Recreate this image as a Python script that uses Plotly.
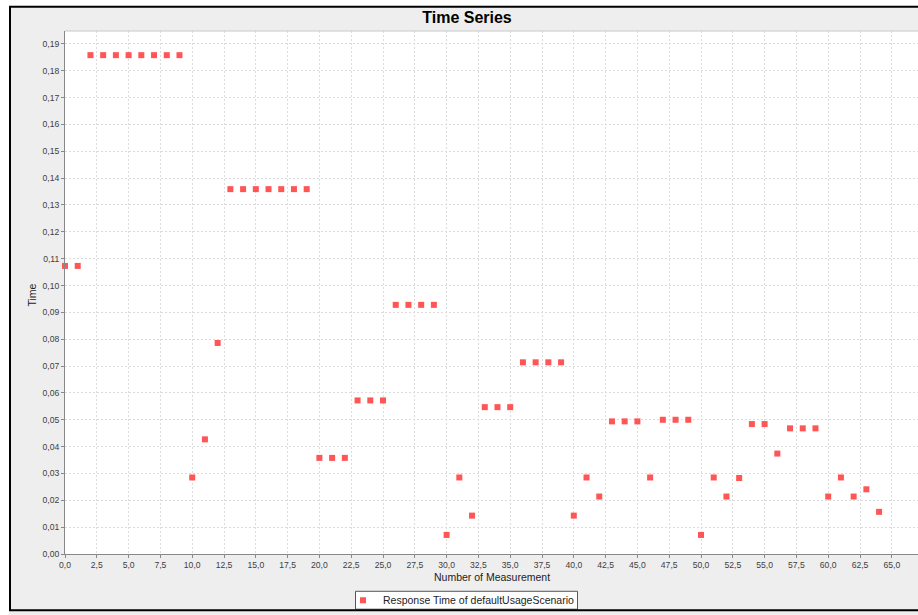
import plotly.graph_objects as go

# Data
measurement = list(range(65))
response_time = [
    0.1073, 0.1073,
    0.1858, 0.1858, 0.1858, 0.1858, 0.1858, 0.1858, 0.1858, 0.1858,
    0.0285, 0.0427, 0.0786,
    0.1359, 0.1359, 0.1359, 0.1359, 0.1359, 0.1359, 0.1359,
    0.0358, 0.0358, 0.0358,
    0.0572, 0.0572, 0.0572,
    0.0928, 0.0928, 0.0928, 0.0928,
    0.0071, 0.0285, 0.0143,
    0.0547, 0.0547, 0.0547,
    0.0714, 0.0714, 0.0714, 0.0714,
    0.0143, 0.0285, 0.0214,
    0.0494, 0.0494, 0.0494,
    0.0285,
    0.0500, 0.0500, 0.0500,
    0.0071, 0.0285, 0.0214, 0.0283,
    0.0484, 0.0484,
    0.0374,
    0.0468, 0.0468, 0.0468,
    0.0214, 0.0285, 0.0214, 0.0241, 0.0157,
]
series_name = "Response Time of defaultUsageScenario"
title_text = "Time Series"
x_title = "Number of Measurement"
y_title = "Time"

W, H = 918, 615
L, R, T, B = 65, 0, 31, 58
pw, ph = W - L - R, H - T - B


def px(x):
    return (x - L) / pw


def py(y):
    return (H - B - y) / ph


FONT = "Liberation Sans, Arial, sans-serif"

fig = go.Figure()
fig.add_trace(go.Scatter(
    x=measurement, y=response_time, mode="markers", name=series_name,
    marker=dict(symbol="square", size=6, color="#FF5555", line=dict(width=0)),
    cliponaxis=False,
))

axis_common = dict(
    showgrid=True, gridcolor="#DCDCDC", griddash="2px,2px", gridwidth=1,
    showline=True, linecolor="#888888", linewidth=1,
    ticks="outside", ticklen=3, tickcolor="#888888",
    tickfont=dict(family=FONT, size=8.6, color="#404040"),
    zeroline=False,
)

fig.update_xaxes(range=[0, 67.06], dtick=2.5, tick0=0, tickformat=".1f", **axis_common)
fig.update_yaxes(range=[0, 0.1948], dtick=0.01, tick0=0, tickformat=".2f", **axis_common)

fig.update_layout(
    width=W, height=H,
    margin=dict(l=L, r=R, t=T, b=B, pad=0),
    paper_bgcolor="#EEEEEE", plot_bgcolor="white",
    separators=",.",
    font=dict(family=FONT, size=10.5, color="#222222"),
    title=dict(text="<b>" + title_text + "</b>", x=px(467), xref="paper", xanchor="center",
               y=1 - 17 / H, yref="container", yanchor="middle",
               font=dict(family=FONT, size=16, color="black")),
    showlegend=True,
    legend=dict(orientation="h", x=px(343), y=py(603.5), xanchor="left", yanchor="middle",
                bgcolor="rgba(0,0,0,0)", borderwidth=0,
                font=dict(family=FONT, size=10.5, color="#222222"),
                itemwidth=30, tracegroupgap=0),
    annotations=[
        dict(text=x_title, x=px(492), y=py(580), xref="paper", yref="paper",
             showarrow=False, xanchor="center", yanchor="middle",
             font=dict(family=FONT, size=10.5, color="#222222")),
        dict(text=y_title, x=px(32), y=py(297), xref="paper", yref="paper",
             showarrow=False, xanchor="center", yanchor="middle", textangle=-90,
             font=dict(family=FONT, size=10.5, color="#222222")),
    ],
    shapes=[
        # white outside the frame
        dict(type="rect", xref="paper", yref="paper", x0=px(-5), x1=px(9), y0=py(H + 5), y1=py(-5),
             fillcolor="white", line=dict(width=0), layer="below"),
        dict(type="rect", xref="paper", yref="paper", x0=px(-5), x1=px(W + 5), y0=py(6), y1=py(-5),
             fillcolor="white", line=dict(width=0), layer="below"),
        # legend box
        dict(type="rect", xref="paper", yref="paper", x0=px(355.5), x1=px(577.5), y0=py(612.5), y1=py(594.5),
             fillcolor="white", line=dict(color="#555555", width=1), layer="below"),
        # black frame
        dict(type="rect", xref="paper", yref="paper", x0=px(10), x1=px(W + 40), y0=py(613.5), y1=py(6.7),
             line=dict(color="black", width=2), fillcolor="rgba(0,0,0,0)", layer="above"),
        # plot area top outline
        dict(type="line", xref="paper", yref="paper", x0=0, x1=1, y0=1, y1=1,
             line=dict(color="#C8C8C8", width=1), layer="above"),
    ],
)

fig.write_html(
    "out.html",
    config={"displayModeBar": False},
    post_script=(
        "document.body.style.margin='0px';"
        "document.body.style.overflow='hidden';"
        "document.documentElement.style.overflow='hidden';"
    ),
)
